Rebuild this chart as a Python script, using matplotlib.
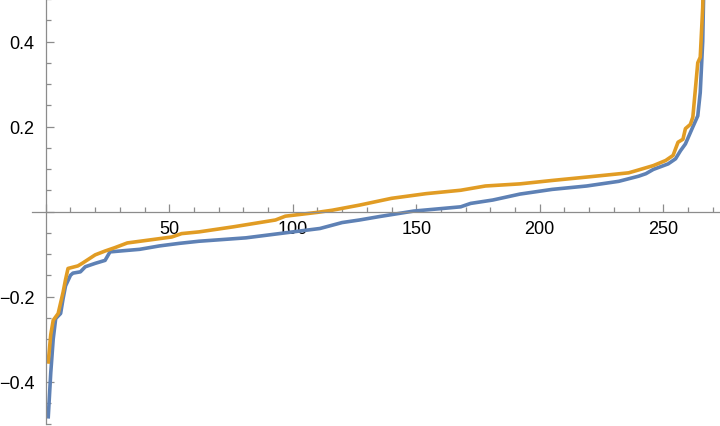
import matplotlib.pyplot as plt
from matplotlib.ticker import MultipleLocator, FuncFormatter

plt.rcParams['font.family'] = ['Liberation Sans', 'DejaVu Sans']

# sorted values (index, value)
blue_x = [1, 2, 3, 4, 6, 7, 8, 10, 11, 14, 16, 20, 24, 26, 30, 38, 46, 54, 62,
          81, 100, 111, 120, 127, 135, 149, 168, 172, 181, 192, 205, 219, 232,
          240, 243, 246, 252, 255, 257, 259, 262, 264, 265, 266, 267]
blue_y = [-0.483, -0.38, -0.30, -0.252, -0.240, -0.205, -0.175, -0.150, -0.145,
          -0.142, -0.130, -0.122, -0.115, -0.095, -0.093, -0.089, -0.081, -0.075,
          -0.070, -0.062, -0.048, -0.040, -0.026, -0.020, -0.012, 0.001, 0.011,
          0.019, 0.027, 0.041, 0.052, 0.060, 0.071, 0.083, 0.089, 0.099, 0.112,
          0.124, 0.143, 0.159, 0.199, 0.225, 0.28, 0.40, 0.70]

orange_x = [1, 2, 3, 5, 7, 8, 9, 13, 15, 20, 24, 28, 33, 42, 51, 55, 62, 76, 93,
            97, 110, 116, 127, 140, 154, 168, 178, 192, 205, 219, 236, 239, 246,
            251, 254, 256, 258, 259, 261, 262, 264, 265, 266, 267]
orange_y = [-0.354, -0.29, -0.256, -0.240, -0.190, -0.160, -0.134, -0.128, -0.121,
            -0.102, -0.093, -0.085, -0.074, -0.067, -0.060, -0.052, -0.048, -0.036,
            -0.020, -0.011, -0.002, 0.003, 0.015, 0.031, 0.042, 0.050, 0.060, 0.065,
            0.073, 0.081, 0.091, 0.096, 0.108, 0.120, 0.132, 0.163, 0.170, 0.195,
            0.205, 0.222, 0.350, 0.363, 0.48, 0.75]

fig = plt.figure(figsize=(7.2, 4.27), dpi=100)
ax = fig.add_axes([45.8 / 720, 2 / 427, (720 - 45.8) / 720, 425 / 427])

ax.plot(blue_x, blue_y, color='#5E81B5', lw=2.6)
ax.plot(orange_x, orange_y, color='#E19C24', lw=2.6)

ax.set_xlim(0, 273)
ax.set_ylim(-0.5, 0.5)

axis_col = '#8c8c8c'
for s in ['top', 'right']:
    ax.spines[s].set_visible(False)
ax.spines['left'].set_position(('data', 0))
ax.spines['bottom'].set_position(('data', 0))
ax.spines['bottom'].set_bounds(-5.6, 273)
for s in ['left', 'bottom']:
    ax.spines[s].set_color(axis_col)
    ax.spines[s].set_linewidth(0.9)

ax.xaxis.set_major_locator(MultipleLocator(50))
ax.xaxis.set_minor_locator(MultipleLocator(10))
ax.yaxis.set_major_locator(MultipleLocator(0.2))
ax.yaxis.set_minor_locator(MultipleLocator(0.05))

def fmt_x(v, pos):
    return '' if abs(v) < 1e-9 else '%d' % v

def fmt_y(v, pos):
    if abs(v) < 1e-9:
        return ''
    return ('%.1f' % v).replace('-', '\u2212')

ax.xaxis.set_major_formatter(FuncFormatter(fmt_x))
ax.yaxis.set_major_formatter(FuncFormatter(fmt_y))

ax.tick_params(which='both', direction='in', color=axis_col, labelsize=13,
               labelcolor='black', width=0.9)
ax.tick_params(which='major', length=6)
ax.tick_params(which='minor', length=3.5)
ax.tick_params(axis='x', pad=6)
ax.tick_params(axis='y', pad=8)

fig.savefig('out.png', dpi=100)
